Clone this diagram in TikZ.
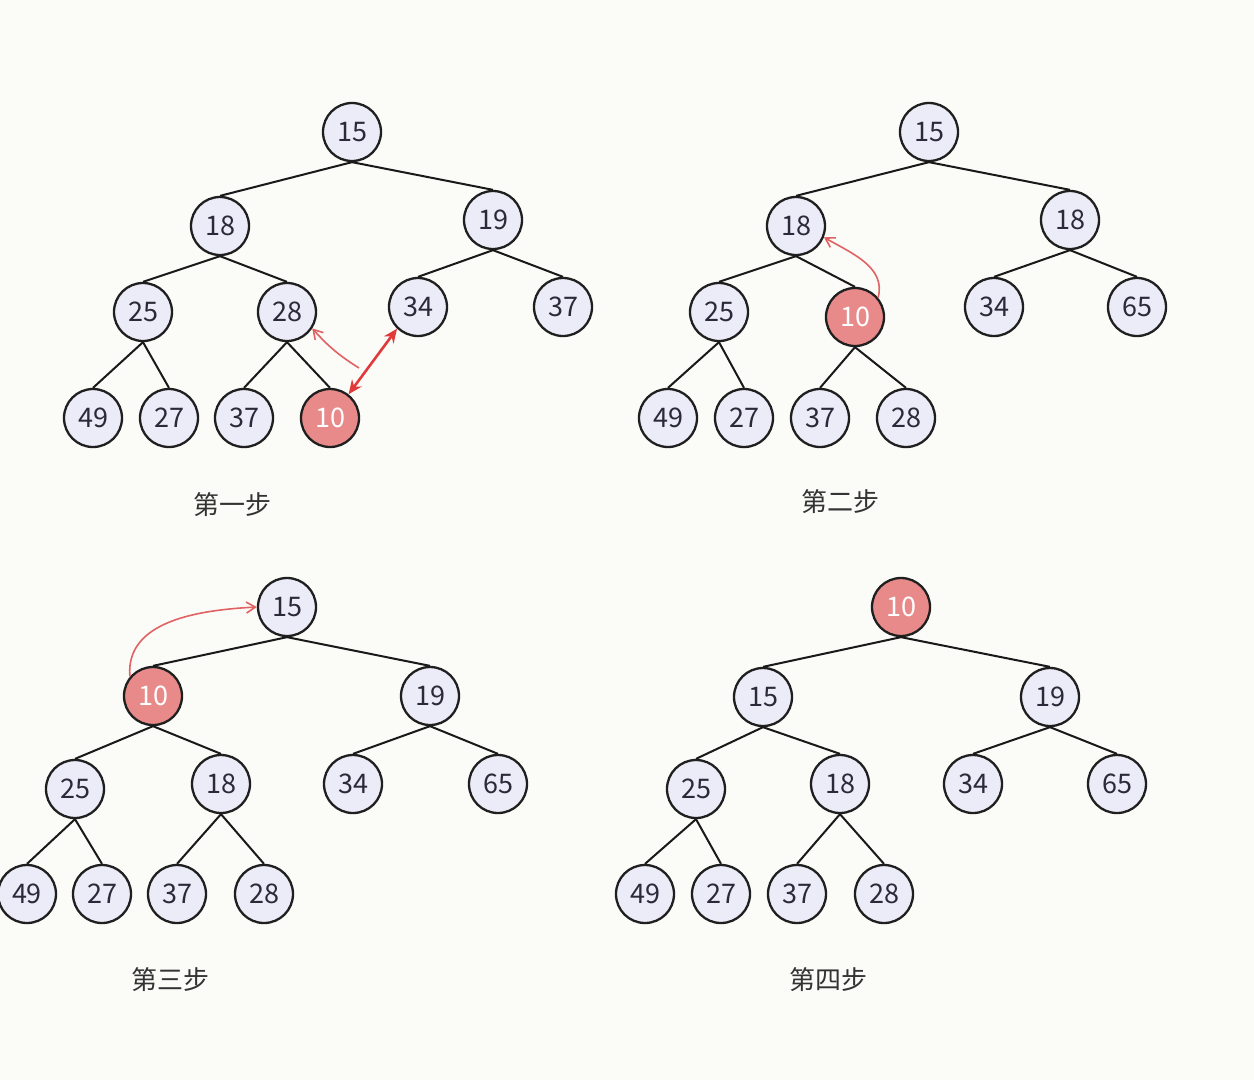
\documentclass[tikz,border=0pt]{standalone}
\usepackage{fontspec}
\newfontfamily\cjk{Noto Sans CJK SC}
\usetikzlibrary{arrows.meta}
\definecolor{bgc}{HTML}{FBFBF8}
\definecolor{nodefill}{HTML}{ECECF8}
\definecolor{redfill}{HTML}{E88A8A}
\definecolor{txt}{HTML}{2A2A3A}
\definecolor{arrred}{HTML}{E06262}
\definecolor{arrdark}{HTML}{E03A3A}
\tikzset{
  hnode/.style={circle, draw=black!88, line width=2.3pt, fill=nodefill, minimum size=58pt, inner sep=0pt, text=txt, font=\cjk\fontsize{27}{27}\selectfont},
  rnode/.style={hnode, fill=redfill, text=white},
  edge/.style={line width=2pt, black!90},
  steplabel/.style={font=\cjk\fontsize{26}{26}\selectfont, text=black!80},
  thinarrB/.style={arrred, line width=1.6pt, -{Straight Barb[length=9pt,width=11pt]}},
  thickarr/.style={arrdark, line width=2.6pt, {Stealth[length=14pt,width=12pt]}-{Stealth[length=14pt,width=12pt]}}
}
\begin{document}
\begin{tikzpicture}[x=1pt,y=-1pt]
\fill[bgc] (0,0) rectangle (1254,1080);
\useasboundingbox (0,0) rectangle (1254,1080);

% ---------- Step 1 ----------
\node[hnode] (a15) at (352,132) {15};
\node[hnode] (a18) at (220,226) {18};
\node[hnode] (a19) at (493,220) {19};
\node[hnode] (a25) at (143,312) {25};
\node[hnode] (a28) at (287,312) {28};
\node[hnode] (a34) at (418,307) {34};
\node[hnode] (a37b) at (563,307) {37};
\node[hnode] (a49) at (93,418) {49};
\node[hnode] (a27) at (169,418) {27};
\node[hnode] (a37) at (244,418) {37};
\node[rnode] (a10) at (330,418) {10};
\draw[edge] (a15.south) -- (a18.north);
\draw[edge] (a15.south) -- (a19.north);
\draw[edge] (a18.south) -- (a25.north);
\draw[edge] (a18.south) -- (a28.north);
\draw[edge] (a19.south) -- (a34.north);
\draw[edge] (a19.south) -- (a37b.north);
\draw[edge] (a25.south) -- (a49.north);
\draw[edge] (a25.south) -- (a27.north);
\draw[edge] (a28.south) -- (a37.north);
\draw[edge] (a28.south) -- (a10.north);
\coordinate (a1s) at (359,368);
\draw[thinarrB] (a1s) to[bend left=8] (a28.-33);
\draw[thickarr] (a10.52) -- (a34.226);
\node[steplabel] (l1) at (232,505) {第一步};

% ---------- Step 2 ----------
\node[hnode] (b15) at (929,132) {15};
\node[hnode] (b18) at (796,226) {18};
\node[hnode] (b18r) at (1070,220) {18};
\node[hnode] (b25) at (719,312) {25};
\node[rnode] (b10) at (855,317) {10};
\node[hnode] (b34) at (994,307) {34};
\node[hnode] (b65) at (1137,307) {65};
\node[hnode] (b49) at (668,418) {49};
\node[hnode] (b27) at (744,418) {27};
\node[hnode] (b37) at (820,418) {37};
\node[hnode] (b28) at (906,418) {28};
\draw[edge] (b15.south) -- (b18.north);
\draw[edge] (b15.south) -- (b18r.north);
\draw[edge] (b18.south) -- (b25.north);
\draw[edge] (b18.south) -- (b10.north);
\draw[edge] (b18r.south) -- (b34.north);
\draw[edge] (b18r.south) -- (b65.north);
\draw[edge] (b25.south) -- (b49.north);
\draw[edge] (b25.south) -- (b27.north);
\draw[edge] (b10.south) -- (b37.north);
\draw[edge] (b10.south) -- (b28.north);
\draw[thinarrB] (b10.40) to[out=75,in=-30] (b18.-22);
\node[steplabel] (l2) at (840,502) {第二步};

% ---------- Step 3 ----------
\node[hnode] (c15) at (287,607) {15};
\node[rnode] (c10) at (153,696) {10};
\node[hnode] (c19) at (430,696) {19};
\node[hnode] (c25) at (75,789) {25};
\node[hnode] (c18) at (221,784) {18};
\node[hnode] (c34) at (353,784) {34};
\node[hnode] (c65) at (498,784) {65};
\node[hnode] (c49) at (27,894) {49};
\node[hnode] (c27) at (102,894) {27};
\node[hnode] (c37) at (177,894) {37};
\node[hnode] (c28) at (264,894) {28};
\draw[edge] (c15.south) -- (c10.north);
\draw[edge] (c15.south) -- (c19.north);
\draw[edge] (c10.south) -- (c25.north);
\draw[edge] (c10.south) -- (c18.north);
\draw[edge] (c19.south) -- (c34.north);
\draw[edge] (c19.south) -- (c65.north);
\draw[edge] (c25.south) -- (c49.north);
\draw[edge] (c25.south) -- (c27.north);
\draw[edge] (c18.south) -- (c37.north);
\draw[edge] (c18.south) -- (c28.north);
\draw[thinarrB] (c10.140) to[out=95,in=183] (c15.west);
\node[steplabel] (l3) at (170,980) {第三步};

% ---------- Step 4 ----------
\node[rnode] (d10) at (901,607) {10};
\node[hnode] (d15) at (763,697) {15};
\node[hnode] (d19) at (1050,697) {19};
\node[hnode] (d25) at (696,789) {25};
\node[hnode] (d18) at (840,784) {18};
\node[hnode] (d34) at (973,784) {34};
\node[hnode] (d65) at (1117,784) {65};
\node[hnode] (d49) at (645,894) {49};
\node[hnode] (d27) at (721,894) {27};
\node[hnode] (d37) at (797,894) {37};
\node[hnode] (d28) at (884,894) {28};
\draw[edge] (d10.south) -- (d15.north);
\draw[edge] (d10.south) -- (d19.north);
\draw[edge] (d15.south) -- (d25.north);
\draw[edge] (d15.south) -- (d18.north);
\draw[edge] (d19.south) -- (d34.north);
\draw[edge] (d19.south) -- (d65.north);
\draw[edge] (d25.south) -- (d49.north);
\draw[edge] (d25.south) -- (d27.north);
\draw[edge] (d18.south) -- (d37.north);
\draw[edge] (d18.south) -- (d28.north);
\node[steplabel] (l4) at (828,980) {第四步};
\end{tikzpicture}
\end{document}
